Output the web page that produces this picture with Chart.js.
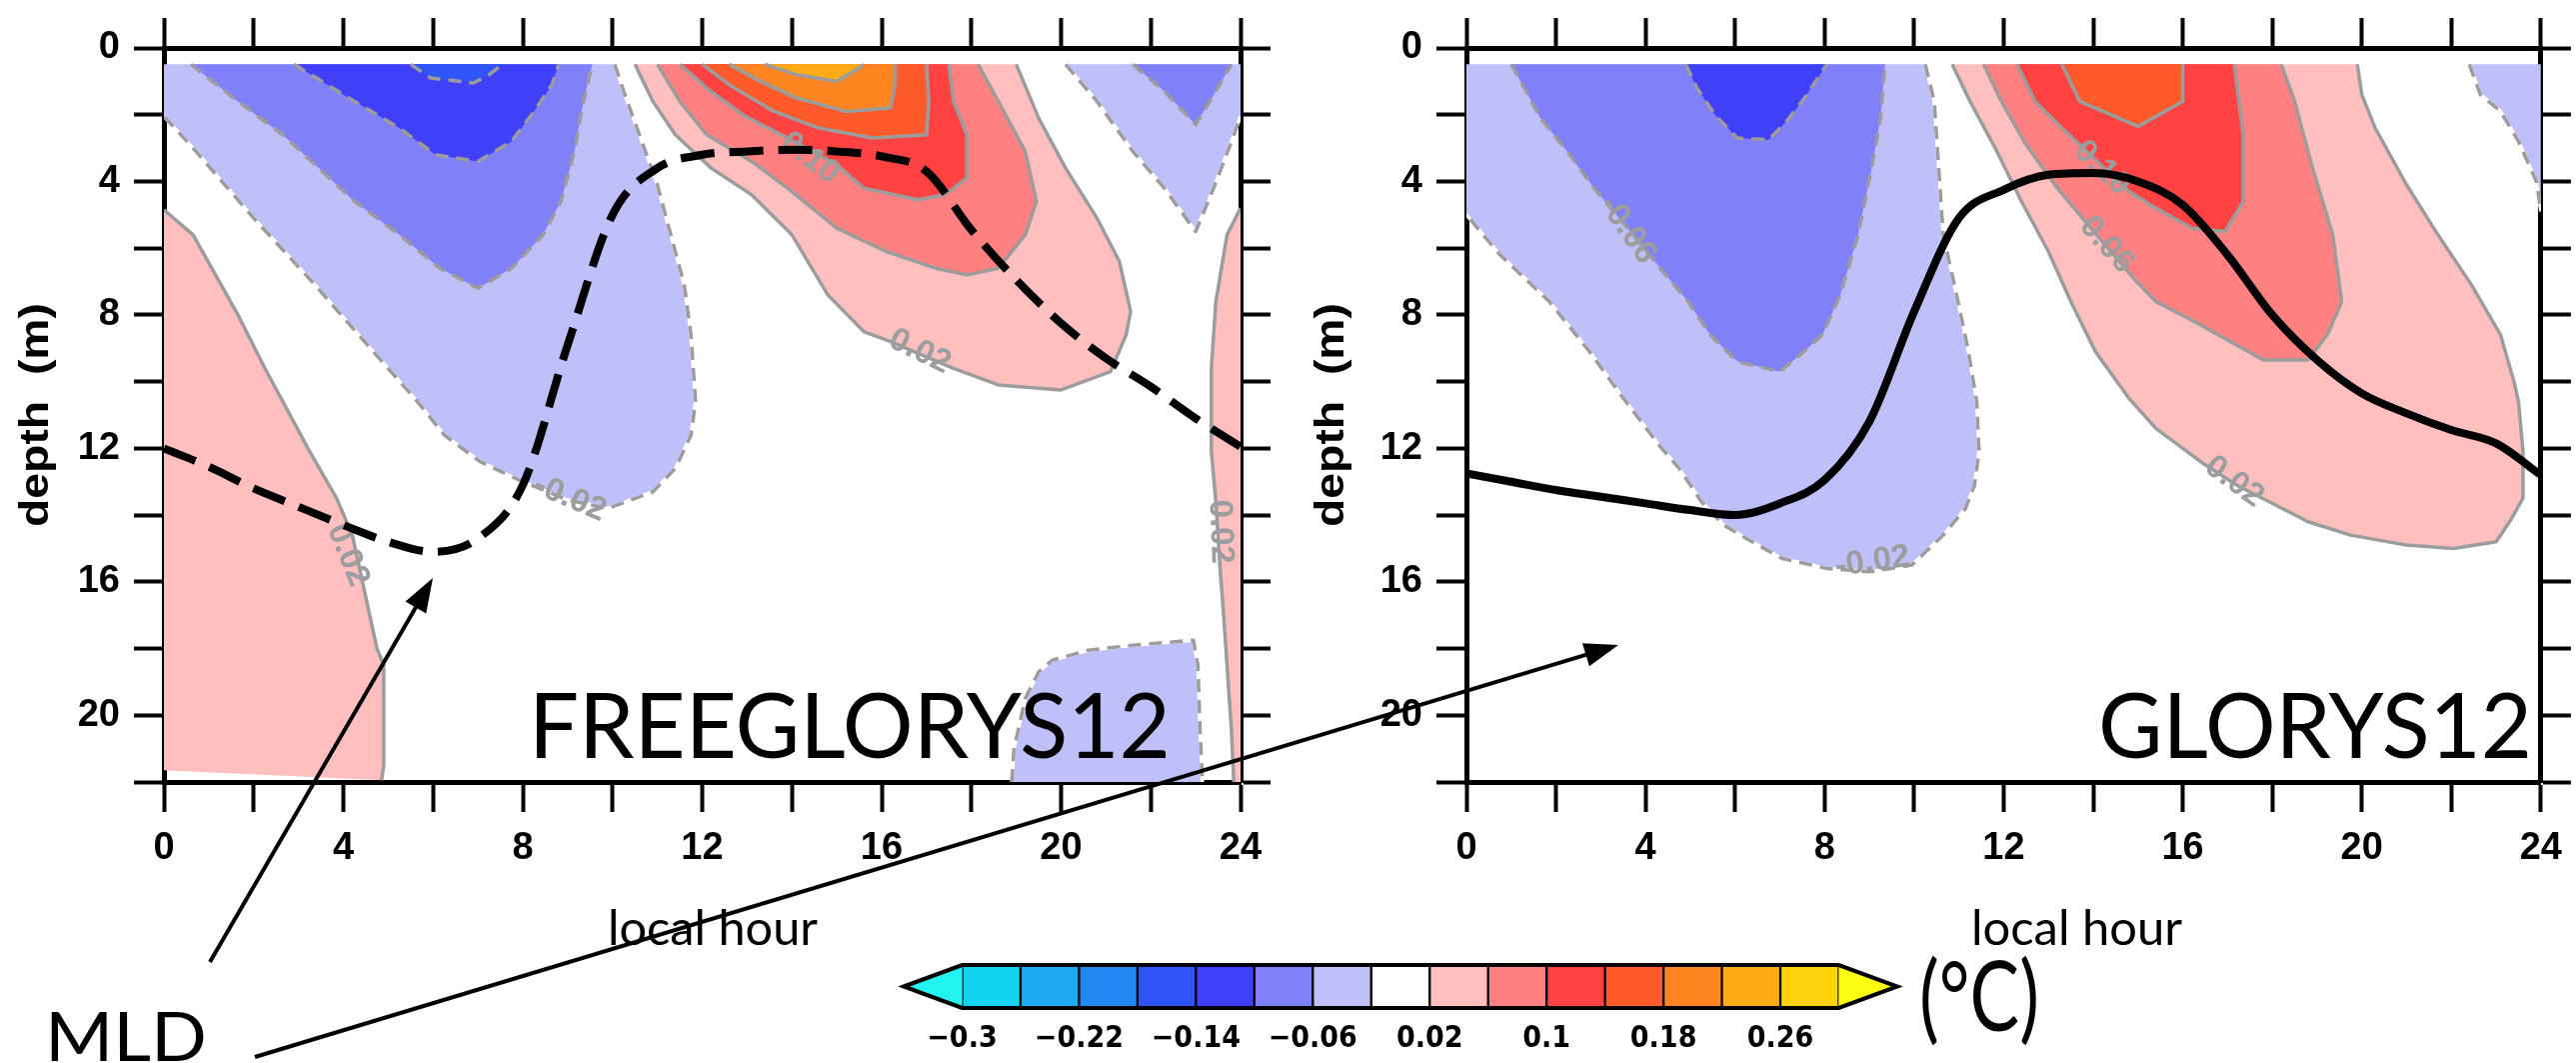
<!DOCTYPE html>
<html>
<head>
<meta charset="utf-8">
<title>Diurnal temperature anomaly and MLD</title>
<script src="https://cdn.jsdelivr.net/npm/chart.js@4.4.1/dist/chart.umd.min.js"></script>
<style>
  body { margin: 0; background: #fff; }
  #page { position: relative; width: 2577px; height: 1063px; overflow: hidden; background: #fff; }
  canvas { position: absolute; }
</style>
</head>
<body>
<div id="page">
  <canvas id="free" width="1300" height="900" style="left:0;top:0"></canvas>
  <canvas id="glorys" width="1277" height="900" style="left:1300px;top:0"></canvas>
  <canvas id="cbar" width="1040" height="128" style="left:880px;top:935px"></canvas>
  <canvas id="notes" width="2577" height="1063" style="left:0;top:0"></canvas>
</div>
<script>
// ---------- data ----------
const hours = [0,1,2,3,4,5,6,7,8,9,10,11,12,13,14,15,16,17,18,19,20,21,22,23,24];
// mixed layer depth (m)
const mldFree   = [12.0,12.55,13.2,13.75,14.3,14.8,15.1,14.7,13.1,8.9,5.0,3.6,3.2,3.1,3.05,3.1,3.25,3.7,5.45,6.95,8.25,9.3,10.15,11.1,11.95];
const mldGlorys = [12.75,13.0,13.25,13.45,13.65,13.85,14.0,13.65,12.95,11.2,7.9,5.1,4.25,3.8,3.75,4.0,4.7,6.2,8.0,9.35,10.35,10.95,11.45,11.85,12.8];

// colour scale (°C)
const cbLevels = [-0.3,-0.26,-0.22,-0.18,-0.14,-0.1,-0.06,-0.02,0.02,0.06,0.1,0.14,0.18,0.22,0.26,0.3];
const cbColors = ['#12d2f2','#1eaaf2','#2088f2','#2f55f6','#4040f8','#8080f8','#bfbff9','#ffffff',
                  '#ffbfbf','#ff8080','#ff4242','#ff5a2a','#ff8522','#ffab18','#ffd20e'];
const cbLow = '#22f2f2', cbHigh = '#ffff12';
const cbTickLabels = [-0.3,-0.22,-0.14,-0.06,0.02,0.1,0.18,0.26];

// contour lines [hour, depth] - FREEGLORYS12
const freeM002a = [[10.05,0.49],[10.25,1.3],[10.6,2.6],[11.0,4.1],[11.3,5.6],[11.6,7.1],[11.75,8.6],[11.85,10.6],[11.75,11.6],[11.4,12.6],[10.9,13.3],[9.9,13.8],[9.0,13.55],[8.0,13.0],[7.05,12.4],[6.25,11.6],[5.65,10.6],[4.6,9.0],[3.3,7.0],[2.0,5.1],[0.65,3.0],[0,2.05]];
const freeM006a = [[0.6,0.49],[1.65,1.6],[2.65,2.6],[3.45,3.6],[4.25,4.6],[5.25,5.6],[6.15,6.6],[7.0,7.2],[7.75,6.6],[8.45,5.6],[8.85,4.6],[9.15,3.1],[9.35,1.6],[9.55,0.49]];
const freeM010  = [[2.9,0.49],[4.25,1.6],[5.25,2.4],[6.05,3.2],[7.0,3.4],[7.75,2.8],[8.25,1.9],[8.65,1.1],[8.8,0.49]];
const freeM014  = [[5.5,0.49],[5.95,0.9],[6.9,1.05],[7.25,0.8],[7.55,0.49]];
const freeM002b = [[20.1,0.49],[20.8,1.6],[21.6,3.1],[22.3,4.2],[23.0,5.5],[23.4,4.2],[23.8,2.8],[24,2.05]];
const freeM006b = [[21.6,0.49],[22.3,1.3],[23.0,2.3],[23.4,1.4],[23.8,0.49]];
const freeM002c = [[18.9,22.0],[18.95,21.0],[19.2,19.5],[19.5,18.7],[19.8,18.35],[20.6,18.05],[21.6,17.9],[22.95,17.75],[23.05,18.5],[23.1,20.5],[23.15,22.0]];
const freeP002a = [[0,4.85],[0.65,5.6],[1.65,8.0],[2.25,9.6],[2.65,10.6],[3.25,12.1],[3.85,13.5],[4.2,14.6],[4.45,16.15],[4.75,18.0],[4.9,18.5],[4.9,21.5],[4.85,21.95]];
const freeP002b = [[24,4.8],[23.7,5.6],[23.45,7.6],[23.35,9.6],[23.35,12.1],[23.45,13.6],[23.55,15.7],[23.6,16.55],[23.7,18.5],[23.8,20.5],[23.85,22.0]];
const freeP002c = [[10.5,0.49],[10.9,1.6],[11.4,2.6],[12.2,3.6],[13.1,4.4],[14.0,5.6],[14.8,7.4],[15.6,8.5],[16.2,8.8],[17.6,9.6],[18.6,10.1],[20.0,10.25],[21.1,9.7],[21.45,8.6],[21.55,7.9],[21.3,6.4],[20.8,5.1],[20.1,3.6],[19.5,2.1],[19.0,0.49]];
const freeP006  = [[11.0,0.49],[11.5,1.6],[12.1,2.6],[13.1,3.4],[13.9,4.2],[15.0,5.4],[16.1,6.1],[17.2,6.6],[17.9,6.8],[18.6,6.6],[19.2,5.6],[19.45,4.6],[19.2,3.1],[18.6,1.6],[18.15,0.49]];
const freeP010  = [[11.5,0.49],[12.1,1.2],[12.9,2.0],[13.9,2.7],[15.0,3.5],[15.6,4.2],[16.8,4.55],[17.4,4.4],[17.9,3.9],[17.9,2.6],[17.6,1.6],[17.5,0.49]];
const freeP014  = [[12.0,0.49],[12.6,1.1],[13.6,1.9],[14.6,2.4],[15.8,2.7],[17.0,2.6],[17.05,1.6],[17.0,0.49]];
const freeP018  = [[12.6,0.49],[13.3,1.0],[14.1,1.5],[15.2,1.9],[16.2,1.8],[16.3,1.1],[16.3,0.49]];
const freeP022  = [[13.4,0.49],[14.1,0.8],[15.0,1.0],[15.5,0.6],[15.6,0.49]];

// contour lines [hour, depth] - GLORYS12
const glM002a = [[10.25,0.49],[10.45,1.6],[10.55,3.6],[10.65,5.6],[10.95,7.4],[11.2,9.0],[11.4,10.6],[11.45,12.1],[11.35,13.1],[11.15,13.8],[10.65,14.6],[9.95,15.5],[9.0,15.7],[8.05,15.6],[7.05,15.3],[6.25,14.7],[5.75,14.3],[5.25,13.6],[4.75,12.6],[4.3,11.9],[3.45,10.4],[2.75,9.1],[1.85,7.6],[0.75,6.2],[0,5.0]];
const glM006  = [[1.0,0.49],[1.25,1.1],[1.65,2.1],[2.25,3.1],[2.85,4.2],[3.6,5.4],[4.45,6.8],[4.95,7.6],[5.45,8.6],[6.05,9.4],[7.0,9.7],[7.45,9.2],[7.95,8.6],[8.35,7.4],[8.75,5.6],[9.05,3.6],[9.25,2.1],[9.35,0.49]];
const glM010  = [[4.9,0.49],[5.15,1.2],[5.55,2.0],[6.05,2.7],[6.75,2.75],[7.15,2.2],[7.55,1.5],[7.85,0.9],[8.05,0.49]];
const glM002b = [[22.4,0.49],[22.65,1.4],[23.1,1.9],[23.5,2.8],[23.9,4.0],[24,4.9]];
const glP002  = [[10.85,0.49],[11.25,1.6],[11.85,3.1],[12.4,4.6],[13.0,6.1],[13.5,7.6],[14.05,9.1],[14.8,10.5],[15.4,11.4],[16.4,12.4],[17.2,13.1],[18.8,14.2],[19.75,14.6],[21.0,14.9],[22.05,15.0],[23.0,14.8],[23.3,14.2],[23.6,13.5],[23.6,12.1],[23.5,10.6],[23.4,10.0],[23.1,8.6],[22.45,7.1],[21.7,5.6],[21.0,4.1],[20.3,2.4],[20.0,1.4],[19.9,0.49]];
const glP006  = [[11.55,0.49],[11.95,1.6],[12.5,2.9],[13.2,4.2],[13.7,5.0],[14.9,6.9],[15.4,7.6],[16.4,8.3],[17.8,9.35],[18.8,9.35],[19.25,8.55],[19.55,7.6],[19.35,5.6],[18.9,3.6],[18.5,1.6],[18.2,0.49]];
const glP010  = [[12.3,0.49],[12.7,1.6],[13.3,2.4],[13.7,2.9],[14.8,4.3],[15.4,4.8],[16.2,5.4],[16.95,5.5],[17.35,4.6],[17.35,2.6],[17.15,0.49]];
const glP014  = [[13.3,0.49],[13.7,1.6],[15.0,2.35],[16.0,1.6],[16.0,0.49]];

// regions: contour level, contour line, extra corner points to close along the frame
const freeRegions = [
  {lvl: -0.02, line: freeM002a, close: [[0,0.49]]},
  {lvl: -0.02, line: freeM002b, close: [[24,0.49]]},
  {lvl: -0.02, line: freeM002c},
  {lvl: -0.06, line: freeM006a},
  {lvl: -0.06, line: freeM006b},
  {lvl: -0.10, line: freeM010},
  {lvl: -0.14, line: freeM014},
  {lvl: 0.02, line: freeP002a, close: [[0,21.65]]},
  {lvl: 0.02, line: freeP002b, close: [[24,22.0]]},
  {lvl: 0.02, line: freeP002c},
  {lvl: 0.06, line: freeP006},
  {lvl: 0.10, line: freeP010},
  {lvl: 0.14, line: freeP014},
  {lvl: 0.18, line: freeP018},
  {lvl: 0.22, line: freeP022}
];
const glRegions = [
  {lvl: -0.02, line: glM002a, close: [[0,0.49]]},
  {lvl: -0.02, line: glM002b, close: [[24,0.49]]},
  {lvl: -0.06, line: glM006},
  {lvl: -0.10, line: glM010},
  {lvl: 0.02, line: glP002},
  {lvl: 0.06, line: glP006},
  {lvl: 0.10, line: glP010},
  {lvl: 0.14, line: glP014}
];

// contour labels [hour, depth, text, angle]
const freeLabels = [[14.4,3.3,'0.10',37],[16.85,9.1,'0.02',26],[9.05,13.5,'-0.02',23],[4.1,15.2,'0.02',68],[23.55,14.5,'0.02',88]];
const glLabels = [[3.6,5.45,'-0.06',55],[14.2,3.6,'0.10',43],[14.3,5.9,'0.06',48],[9.07,15.4,'-0.02',-8],[17.15,13.0,'0.02',36]];

// ---------- helpers ----------
const TICK_FONT = "'Liberation Sans', Arial, sans-serif";
const NARROW = "'Liberation Sans Narrow', 'DejaVu Sans Condensed', 'Liberation Sans', sans-serif";
const toXY = pts => pts.map(([x, y]) => ({x, y}));
function fillFor(lvl) {
  const k = Math.round(((lvl < 0 ? lvl - 0.04 : lvl) + 0.3) / 0.04);
  return cbColors[k];
}

function fillPlugin(regions) {
  return {
    id: 'contourFill',
    beforeDatasetsDraw(chart) {
      const {ctx, chartArea: a, scales: {x, y}} = chart;
      ctx.save();
      ctx.beginPath(); ctx.rect(a.left, a.top, a.width, a.height); ctx.clip();
      regions.forEach(r => {
        ctx.beginPath();
        r.line.concat(r.close || []).forEach(([h, d], i) => {
          const px = x.getPixelForValue(h), py = y.getPixelForValue(d);
          if (i) ctx.lineTo(px, py); else ctx.moveTo(px, py);
        });
        ctx.closePath();
        ctx.fillStyle = fillFor(r.lvl);
        ctx.fill();
      });
      ctx.restore();
    }
  };
}

function labelPlugin(labels) {
  return {
    id: 'contourLabels',
    beforeDatasetDraw(chart, args) {
      if (args.index !== 0) return;
      const {ctx, scales: {x, y}} = chart;
      ctx.save();
      ctx.font = "bold 33px " + TICK_FONT;
      ctx.fillStyle = '#9d9d9d';
      ctx.textAlign = 'center';
      ctx.textBaseline = 'middle';
      labels.forEach(([h, d, t, ang]) => {
        ctx.save();
        ctx.translate(x.getPixelForValue(h), y.getPixelForValue(d));
        ctx.rotate(ang * Math.PI / 180);
        ctx.fillText(t, 0, 0);
        ctx.restore();
      });
      ctx.restore();
    }
  };
}

function lineSet(pts, color, dash) {
  return {data: toXY(pts), borderColor: color, borderWidth: 3.5, borderDash: dash,
          borderJoinStyle: 'round', pointRadius: 0, fill: false, order: 1, xAxisID: 'x', yAxisID: 'y'};
}

function hourAxis(pos, labels, h) {
  return {
    type: 'linear', position: pos, min: 0, max: 24,
    ticks: {stepSize: 2, autoSkip: false, maxRotation: 0, padding: 14, color: '#000', display: labels,
            font: {family: TICK_FONT, size: 38, weight: 'bold'},
            callback: v => v % 4 === 0 ? String(v) : ''},
    grid: {drawOnChartArea: false, drawTicks: true, tickLength: 30, tickWidth: 4, tickColor: '#000'},
    border: {display: true, width: 5, color: '#000'},
    afterFit: s => { s.height = h; }
  };
}
function depthAxis(pos, labels, w) {
  return {
    type: 'linear', position: pos, min: 0, max: 22, reverse: true,
    ticks: {stepSize: 2, autoSkip: false, padding: 14, color: '#000', display: labels,
            font: {family: TICK_FONT, size: 38, weight: 'bold'},
            callback: v => v % 4 === 0 ? String(v) : ''},
    grid: {drawOnChartArea: false, drawTicks: true, tickLength: 30, tickWidth: 4, tickColor: '#000'},
    border: {display: true, width: 5, color: '#000'},
    afterFit: s => { s.width = w; }
  };
}

function panel(id, regions, mld, dash, labels, leftW, rightW) {
  const datasets = [{
    data: hours.map((h, i) => ({x: h, y: mld[i]})),
    borderColor: '#000', borderWidth: 8, borderDash: dash, borderCapStyle: 'butt',
    cubicInterpolationMode: 'monotone', pointRadius: 0, fill: false, order: 0, xAxisID: 'x', yAxisID: 'y'
  }];
  regions.forEach(r => {
    if (r.lvl < 0) {
      datasets.push(lineSet(r.line, '#9c9c9c', [13, 8]));
      if (r.lvl === -0.02) datasets.push(lineSet(r.line, '#ffffff', []));
    } else {
      datasets.push(lineSet(r.line, '#9c9c9c', []));
    }
  });
  return new Chart(document.getElementById(id), {
    type: 'line',
    data: {datasets},
    options: {
      responsive: false, animation: false, devicePixelRatio: 1, events: [],
      layout: {padding: 0, autoPadding: false},
      plugins: {legend: {display: false}, tooltip: {enabled: false}},
      scales: {
        x: hourAxis('bottom', true, 900 - 782),
        y: depthAxis('left', true, leftW),
        x2: hourAxis('top', false, 48),
        y2: depthAxis('right', false, rightW)
      }
    },
    plugins: [fillPlugin(regions), labelPlugin(labels)]
  });
}

panel('free', freeRegions, mldFree, [34, 15], freeLabels, 164, 1300 - 1241);
panel('glorys', glRegions, mldGlorys, [], glLabels, 167, 1277 - 1243);

// ---------- colour bar ----------
const cbEnds = {
  id: 'cbEnds',
  afterDatasetsDraw(chart) {
    const {ctx, scales: {x, y}} = chart;
    const yt = y.getPixelForValue(1), yb = y.getPixelForValue(0), ym = (yt + yb) / 2;
    const xl = x.getPixelForValue(cbLevels[0]), xr = x.getPixelForValue(cbLevels[cbLevels.length - 1]);
    const tl = x.getPixelForValue(x.min), tr = x.getPixelForValue(x.max);
    ctx.save();
    ctx.lineJoin = 'miter';
    ctx.strokeStyle = '#000'; ctx.lineWidth = 3;
    [[xl, tl, cbLow], [xr, tr, cbHigh]].forEach(([b, t, c]) => {
      ctx.beginPath(); ctx.moveTo(b, yt); ctx.lineTo(t, ym); ctx.lineTo(b, yb); ctx.closePath();
      ctx.fillStyle = c; ctx.fill();
    });
    ctx.lineWidth = 4;
    ctx.beginPath();
    ctx.moveTo(tl, ym); ctx.lineTo(xl, yt); ctx.lineTo(xr, yt); ctx.lineTo(tr, ym);
    ctx.lineTo(xr, yb); ctx.lineTo(xl, yb); ctx.closePath();
    ctx.stroke();
    ctx.restore();
  }
};
new Chart(document.getElementById('cbar'), {
  type: 'bar',
  data: {datasets: [{
    data: cbColors.map((c, i) => ({x: (cbLevels[i] + cbLevels[i + 1]) / 2, y: [0, 1]})),
    backgroundColor: cbColors, borderColor: '#000', borderWidth: 1.5, borderSkipped: false,
    barPercentage: 1, categoryPercentage: 1
  }]},
  options: {
    responsive: false, animation: false, devicePixelRatio: 1, events: [],
    layout: {padding: {left: 24, right: 22, top: 30, bottom: 0}, autoPadding: false},
    plugins: {legend: {display: false}, tooltip: {enabled: false}},
    scales: {
      x: {type: 'linear', min: -0.34, max: 0.34, offset: false,
          grid: {display: false, offset: false}, border: {display: false},
          afterBuildTicks: s => { s.ticks = cbTickLabels.map(v => ({value: v})); },
          ticks: {autoSkip: false, maxRotation: 0, padding: 5, color: '#000',
                  font: {family: NARROW, size: 30, weight: 'bold'},
                  callback: v => (v < 0 ? '\u2212' : '') + Math.abs(v)},
          afterFit: s => { s.height = 128 - 73; }},
      y: {display: false, min: 0, max: 1}
    }
  },
  plugins: [cbEnds]
});

// ---------- annotations ----------
const ctx = document.getElementById('notes').getContext('2d');
ctx.fillStyle = '#000';
ctx.strokeStyle = '#000';
function fitText(text, x, y, w, font) {
  ctx.save();
  ctx.font = font;
  ctx.textBaseline = 'alphabetic';
  const m = ctx.measureText(text).width;
  ctx.translate(x, y);
  ctx.scale(w / m, 1);
  ctx.fillText(text, 0, 0);
  ctx.restore();
}
function vText(text, cx, cy, len, font) {
  ctx.save();
  ctx.font = font;
  ctx.textBaseline = 'middle';
  ctx.textAlign = 'center';
  const m = ctx.measureText(text).width;
  ctx.translate(cx, cy);
  ctx.rotate(-Math.PI / 2);
  ctx.scale(len / m, 1);
  ctx.fillText(text, 0, 0);
  ctx.restore();
}
function arrow(x0, y0, x1, y1) {
  const a = Math.atan2(y1 - y0, x1 - x0), L = 34, W = 12;
  ctx.save();
  ctx.lineWidth = 4;
  ctx.beginPath();
  ctx.moveTo(x0, y0);
  ctx.lineTo(x1 - L * 0.8 * Math.cos(a), y1 - L * 0.8 * Math.sin(a));
  ctx.stroke();
  ctx.beginPath();
  ctx.moveTo(x1, y1);
  ctx.lineTo(x1 - L * Math.cos(a) + W * Math.sin(a), y1 - L * Math.sin(a) - W * Math.cos(a));
  ctx.lineTo(x1 - L * Math.cos(a) - W * Math.sin(a), y1 - L * Math.sin(a) + W * Math.cos(a));
  ctx.closePath();
  ctx.fill();
  ctx.restore();
}

fitText('FREEGLORYS12', 529, 758, 642, "92px Lato, 'Open Sans', sans-serif");
fitText('GLORYS12', 2099, 758, 434, "92px Lato, 'Open Sans', sans-serif");
fitText('local hour', 608, 945, 210, "48px Lato, 'Open Sans', sans-serif");
fitText('local hour', 1972, 945, 211, "48px Lato, 'Open Sans', sans-serif");
fitText('MLD', 45, 1061, 162, "68px Lato, 'Open Sans', sans-serif");
fitText('(°C)', 1920, 1031, 120, "96px Lato, 'Open Sans', sans-serif");
vText('depth  (m)', 37, 415, 224, "bold 40px " + TICK_FONT);
vText('depth  (m)', 1333, 415, 224, "bold 40px " + TICK_FONT);
arrow(210, 962, 433, 578);
arrow(255, 1057, 1619, 645);
</script>
</body>
</html>
